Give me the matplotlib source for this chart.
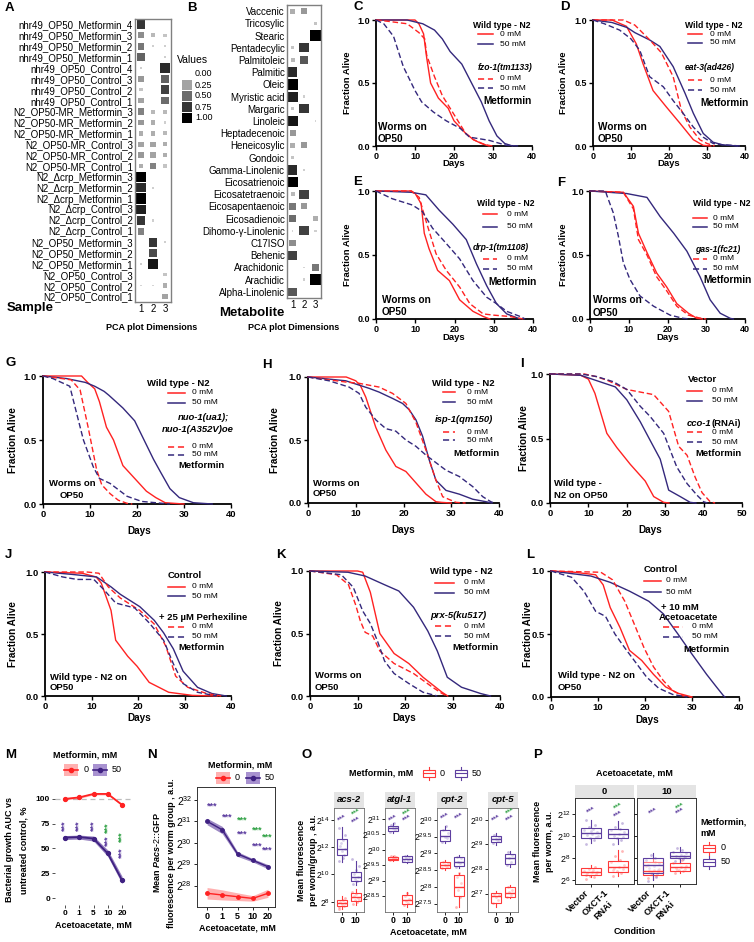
import numpy as np
import matplotlib
matplotlib.use('Agg')
import matplotlib.pyplot as plt
from matplotlib.colors import LinearSegmentedColormap
from matplotlib.patches import Rectangle

plt.rcParams['font.family'] = ['Liberation Sans', 'DejaVu Sans']
plt.rcParams['mathtext.fontset'] = 'custom'
plt.rcParams['mathtext.rm'] = 'Liberation Sans'
plt.rcParams['mathtext.it'] = 'Liberation Sans:italic:bold'
plt.rcParams['mathtext.bf'] = 'Liberation Sans:bold'

# ---------------- A / B : PCA loading heatmaps ----------------
samples = ['nhr49_OP50_Metformin_4', 'nhr49_OP50_Metformin_3', 'nhr49_OP50_Metformin_2',
           'nhr49_OP50_Metformin_1', 'nhr49_OP50_Control_4', 'nhr49_OP50_Control_3',
           'nhr49_OP50_Control_2', 'nhr49_OP50_Control_1', 'N2_OP50-MR_Metformin_3',
           'N2_OP50-MR_Metformin_2', 'N2_OP50-MR_Metformin_1', 'N2_OP50-MR_Control_3',
           'N2_OP50-MR_Control_2', 'N2_OP50-MR_Control_1', 'N2_\u0394crp_Metformin_3',
           'N2_\u0394crp_Metformin_2', 'N2_\u0394crp_Metformin_1', 'N2_\u0394crp_Control_3',
           'N2_\u0394crp_Control_2', 'N2_\u0394crp_Control_1', 'N2_OP50_Metformin_3',
           'N2_OP50_Metformin_2', 'N2_OP50_Metformin_1', 'N2_OP50_Control_3',
           'N2_OP50_Control_2', 'N2_OP50_Control_1']
sample_vals = [[0.75, 0, 0], [0.35, 0.15, 0.1], [0.45, 0.05, 0.05], [0.55, 0, 0.05],
               [0.05, 0, 0.8], [0.3, 0, 0.55], [0.1, 0, 0.7], [0.25, 0, 0.5],
               [0.4, 0.15, 0.15], [0.3, 0.2, 0.05], [0.2, 0.2, 0.15], [0.25, 0.25, 0.2],
               [0.3, 0.25, 0.2], [0.2, 0.4, 0.1], [1.0, 0, 0], [0.8, 0.05, 0],
               [1.0, 0, 0], [0.85, 0, 0], [0.75, 0.05, 0], [0.4, 0, 0],
               [0, 0.75, 0.05], [0, 0.65, 0], [0.05, 0.9, 0], [0, 0, 0.1],
               [0.02, 0.02, 0.2], [0, 0, 0.25]]
metabolites = ['Vaccenic', 'Tricosylic', 'Stearic', 'Pentadecylic', 'Palmitoleic', 'Palmitic',
               'Oleic', 'Myristic acid', 'Margaric', 'Linoleic', 'Heptadecenoic', 'Heneicosylic',
               'Gondoic', 'Gamma-Linolenic', 'Eicosatrienoic', 'Eicosatetraenoic',
               'Eicosapentaenoic', 'Eicosadienoic', 'Dihomo-\u03b3-Linolenic', 'C17ISO', 'Behenic',
               'Arachidonic', 'Arachidic', 'Alpha-Linolenic']
metab_vals = [[0.2, 0.3, 0], [0, 0, 0.1], [0, 0, 1.0], [0.1, 0.75, 0], [0.15, 0.6, 0],
              [0.8, 0, 0], [1.0, 0, 0], [0.85, 0.05, 0], [0.1, 0.75, 0], [0.9, 0, 0.02],
              [0.3, 0, 0], [0.2, 0.3, 0], [0.1, 0, 0], [0.8, 0.05, 0], [1.0, 0, 0],
              [0.15, 0.7, 0], [0.45, 0.3, 0], [0.5, 0, 0.2], [0.02, 0.7, 0.05], [0.35, 0, 0],
              [0.7, 0, 0], [0, 0.02, 0.45], [0, 0.05, 1.0], [0.6, 0, 0]]
legend_values = [0.0, 0.25, 0.5, 0.75, 1.0]

# ---------------- C - L : survival curves (days, fraction alive) ----------------
C_wt_0 = [[0, 10, 11, 12.2, 13, 14, 16, 18.5, 20, 23, 25, 27, 29], [1, 1, .97, .89, .7, .5, .38, .3, .2, .1, .05, .02, 0]]
C_wt_50 = [[0, 8, 12, 15, 17, 19, 22, 24.5, 27, 29, 31, 33, 35], [1, 1, .97, .92, .85, .75, .65, .5, .35, .2, .08, .02, 0]]
C_mut_0 = [[0, 3, 8, 11, 12.5, 13, 15, 17, 19, 21, 23, 25, 28, 30], [1, .99, .97, .9, .85, .72, .55, .4, .3, .2, .1, .05, .01, 0]]
C_mut_50 = [[0, 2, 4.5, 7, 10, 11.7, 14.7, 18, 21.6, 24, 29, 33.5, 37], [1, .97, .87, .63, .44, .35, .27, .2, .14, .07, .045, .005, 0]]

D_wt_0 = [[0, 5, 8.8, 11.4, 13.2, 15.8, 19.3, 22.9, 26.4, 29, 31], [1, 1, .95, .81, .65, .44, .31, .18, .05, .005, 0]]
D_wt_50 = [[0, 5, 9, 11, 13, 15, 17.6, 21.1, 24.2, 26.4, 29, 31.6, 34, 38], [1, .98, .94, .9, .87, .84, .79, .63, .42, .26, .1, .03, .01, 0]]
D_mut_0 = [[0, 8, 11, 13, 15, 18, 21.1, 23.3, 25.5, 28.1, 30, 32], [1, 1, .96, .9, .84, .74, .55, .28, .15, .05, .02, 0]]
D_mut_50 = [[0, 3, 7, 10, 12.3, 14.9, 18.5, 21.1, 23.7, 26.4, 29, 31.6, 34, 39], [1, .97, .92, .85, .76, .55, .47, .36, .26, .15, .07, .02, .01, 0]]

E_wt_0 = [[0, 9, 10, 11.5, 12.3, 13.5, 15.7, 18.7, 21.3, 24.7, 27.3, 29], [1, 1, .98, .9, .67, .55, .38, .3, .15, .06, .02, 0]]
E_wt_50 = [[0, 9, 12.7, 16.1, 19.6, 23, 25.6, 28.2, 30.7, 33.3, 36.7], [1, .99, .97, .85, .74, .62, .43, .26, .12, .04, 0]]
E_mut_0 = [[0, 9, 11, 12.7, 15.3, 17.9, 21.3, 23.9, 27.3, 30, 34, 37.6], [1, 1, .95, .77, .51, .38, .25, .12, .04, .03, .02, 0]]
E_mut_50 = [[0, 4.1, 9.3, 11.8, 14.4, 17.9, 21.3, 24.7, 28.2, 30.7, 33.3, 36.7, 38], [1, .94, .89, .84, .71, .59, .47, .3, .17, .12, .06, .02, 0]]

F_wt_0 = [[0, 8.6, 11.2, 12.5, 14.7, 17.2, 19.8, 22.4, 25.4, 27.6, 29], [1, .99, .88, .67, .52, .36, .25, .12, .045, .005, 0]]
F_wt_50 = [[0, 9.5, 14.7, 18.1, 21.6, 25, 28.4, 31, 33.6, 36.2, 37], [1, .98, .95, .8, .67, .53, .33, .15, .045, .005, 0]]
F_mut_0 = [[0, 8.6, 11.2, 12.5, 14.7, 17.2, 19.8, 22.4, 25.4, 28, 30], [1, .99, .86, .62, .5, .33, .22, .1, .03, .01, 0]]
F_mut_50 = [[0, 4, 4.3, 6, 7.3, 8.6, 10.3, 12.9, 16.4, 20.7, 24.1, 26], [1, 1, .97, .83, .65, .44, .31, .18, .1, .03, .005, 0]]

G_wt_0 = [[0, 8.2, 9.5, 11, 12, 13.5, 15, 17, 19.5, 22, 24, 26, 30], [1, 1, .95, .9, .8, .6, .5, .3, .2, .1, .05, .01, 0]]
G_wt_50 = [[0, 5, 9, 11, 13, 14, 17, 19.5, 21.5, 23.5, 25, 27, 29, 32, 36], [1, .98, .95, .92, .88, .85, .75, .65, .5, .35, .25, .12, .05, .01, 0]]
G_mut_0 = [[0, 6, 7.9, 9.6, 11.4, 12.5, 14.3, 16, 17.9, 19], [1, .97, .89, .6, .27, .15, .08, .03, .005, 0]]
G_mut_50 = [[0, 2.1, 5.7, 6.8, 8.6, 10.7, 12, 14.3, 17.9, 21, 27], [1, .98, .92, .76, .5, .29, .2, .16, .06, .02, 0]]

H_wt_0 = [[0, 8, 10, 11, 12.1, 14.2, 16.3, 18.4, 20.5, 22.6, 24.7, 26.8, 28, 30], [1, 1, .97, .93, .84, .6, .42, .29, .25, .16, .07, .01, .005, 0]]
H_wt_50 = [[0, 7.9, 12.8, 14.9, 17.7, 19.8, 21.2, 22.6, 24, 25.4, 26.8, 28.9, 31.7, 34.5, 37.3, 38.5], [1, .97, .91, .88, .83, .79, .74, .66, .53, .34, .18, .1, .07, .03, .01, 0]]
H_mut_0 = [[0, 7.9, 10.7, 14.9, 17.7, 20.5, 22.6, 24.7, 26.8, 28.2, 31, 33], [1, .96, .95, .92, .87, .79, .64, .42, .18, .05, .005, 0]]
H_mut_50 = [[0, 4.4, 8.6, 10.7, 12.1, 14.2, 16.3, 18.4, 20.5, 22.6, 24.7, 26.8, 28.9, 31.7, 34.5, 36.6, 38.3, 39], [1, .97, .92, .87, .76, .66, .59, .57, .5, .45, .38, .32, .26, .21, .13, .05, .01, 0]]

I_wt_0 = [[0, 8, 10, 11.7, 14.8, 17.4, 20.9, 24.8, 27, 29.6, 31], [1, .99, .96, .85, .54, .43, .3, .17, .05, .005, 0]]
I_wt_50 = [[0, 8, 12, 17, 20, 23.5, 26, 28.7, 30.9, 33.9, 36.5, 38], [1, .99, .95, .9, .8, .63, .49, .34, .1, .05, .005, 0]]
I_mut_0 = [[0, 9, 12, 15, 20, 27, 30.9, 33.5, 35.7, 37.8, 39.6, 41.7, 43], [1, 1, .98, .95, .88, .84, .71, .44, .37, .2, .08, .01, 0]]
I_mut_50 = [[0, 8, 12.2, 16.5, 20, 23.5, 26.1, 29.6, 31.3, 33, 35.7, 38.3, 40, 41], [1, 1, .98, .94, .88, .75, .67, .54, .41, .28, .15, .06, .01, 0]]

J_wt_0 = [[0, 8, 11, 12.1, 14.2, 15.2, 17.8, 19.8, 22.4, 26.6, 31.7, 37], [1, .99, .96, .91, .69, .45, .32, .24, .11, .03, .005, 0]]
J_wt_50 = [[0, 6, 11.1, 14.2, 16.2, 20.4, 23.5, 25.5, 27.6, 29.7, 32.8, 35.9, 39], [1, .98, .96, .88, .82, .72, .61, .51, .38, .2, .07, .02, 0]]
J_mut_0 = [[0, 9, 11.6, 13.6, 16.2, 20.4, 23.5, 26, 28.1, 30.7, 34.8, 37.9], [1, 1, .99, .88, .79, .69, .58, .4, .16, .07, .02, 0]]
J_mut_50 = [[0, 3.8, 6.9, 10.5, 12.6, 15.2, 19.3, 22.4, 25.5, 27.6, 29.7, 32.8, 36.9], [1, .96, .94, .94, .86, .75, .71, .59, .45, .26, .1, .03, 0]]

K_wt_0 = [[0, 10, 11.1, 12.7, 14.7, 17.7, 20.8, 23.8, 25.8, 27.8, 29], [1, 1, .99, .83, .5, .34, .26, .15, .09, .03, 0]]
K_wt_50 = [[0, 8, 11.6, 15.7, 18.7, 21.8, 24.8, 26.8, 28.9, 31.9, 35.9, 38], [1, .99, .96, .89, .84, .71, .52, .36, .15, .07, .02, 0]]
K_mut_0 = [[0, 5.6, 8.1, 9.6, 10.6, 11.6, 13.2, 14.7, 17.7, 21.8, 25.8, 27.8, 28.9], [1, .97, .89, .73, .6, .51, .48, .36, .26, .18, .07, .02, 0]]
K_mut_50 = [[0, 6.6, 9.1, 11.1, 12.7, 14.2, 15.7, 17.7, 20.8, 23.8, 26.8], [1, .97, .87, .68, .58, .44, .28, .18, .1, .03, 0]]

L_wt_0 = [[0, 5, 9.5, 11.1, 12.6, 14.7, 16.7, 19.3, 21.8, 24.4, 27, 30], [1, .99, .97, .89, .71, .55, .37, .29, .18, .08, .03, 0]]
L_wt_50 = [[0, 8.5, 12.6, 16.7, 20.8, 23.9, 27, 30, 33.1, 35.2, 36.7, 37], [1, .96, .91, .84, .76, .66, .5, .34, .18, .08, .01, 0]]
L_mut_0 = [[0, 10.6, 13.1, 15.7, 17.7, 19.8, 21.8, 23.9, 25.9, 28, 30], [1, .99, .93, .76, .58, .39, .24, .13, .05, .01, 0]]
L_mut_50 = [[0, 4.4, 7, 9.5, 11.6, 13.6, 15.7, 17.7, 20.3, 22.9, 25.9, 29], [1, .95, .84, .68, .64, .5, .39, .29, .16, .07, .02, 0]]

# ---------------- M : bacterial growth ----------------
acac_levels = ['0', '1', '5', '10', '20']
M_ctrl = [100, 101.5, 105, 105, 94]
M_ctrl_lo = [99, 100.5, 104, 104, 93]
M_ctrl_hi = [101, 102.5, 106, 106, 95]
M_met = [61, 61.5, 60, 45, 18]
M_met_lo = [59, 59.5, 57.5, 42, 14.5]
M_met_hi = [63, 63.5, 62.5, 48.5, 22]
M_stars = [(0, 72.5, 'p'), (1, 72.5, 'p'), (2, 72.5, 'p'), (3, 70.5, 'g'), (3, 57.5, 'p'),
           (4, 61.5, 'g'), (4, 45.5, 'p')]

# ---------------- N : Pacs-2::GFP (log2) ----------------
N_ctrl = [27.64, 27.56, 27.48, 27.4, 27.64]
N_ctrl_lo = [27.37, 27.33, 27.3, 27.27, 27.45]
N_ctrl_hi = [27.91, 27.8, 27.66, 27.53, 27.83]
N_met = [31.0, 30.6, 29.48, 29.18, 28.88]
N_met_lo = [30.84, 30.42, 29.36, 29.1, 28.78]
N_met_hi = [31.14, 30.76, 29.58, 29.26, 28.98]
N_stars = [(0.33, 31.69, 'p'), (1.3, 31.19, 'p'), (2.3, 31.07, 'g'), (2.3, 30.41, 'p'),
           (3.3, 30.57, 'g'), (3.3, 29.85, 'p'), (3.95, 30.26, 'g'), (3.95, 29.66, 'p')]

# ---------------- O : reporter boxplots (log2), [whislo, q1, med, q3, whishi] ----------------
O_genes = ['acs-2', 'atgl-1', 'cpt-2', 'cpt-5']
O_acac = ['0', '10']
O_red_0 = [[7.45, 7.7, 7.9, 8.15, 8.45], [29.64, 29.66, 29.71, 29.77, 29.8],
           [28.5, 28.55, 28.65, 28.75, 28.8], [26.45, 26.6, 26.89, 27.03, 27.1]]
O_red_10 = [[7.75, 8.05, 8.33, 8.63, 8.9], [28.14, 28.23, 28.36, 28.52, 28.63],
            [27.4, 27.72, 28.0, 28.35, 28.4], [26.8, 26.86, 27.03, 27.27, 27.35]]
O_pur_0 = [[10.9, 11.4, 11.9, 12.6, 13.5], [30.53, 30.59, 30.7, 30.77, 30.86],
           [29.3, 29.38, 29.53, 29.7, 29.82], [28.97, 29.11, 29.23, 29.34, 29.45]]
O_pur_10 = [[9.2, 9.5, 9.8, 10.2, 11.0], [29.58, 29.6, 29.7, 29.8, 29.84],
            [28.55, 28.62, 28.73, 28.88, 28.95], [28.1, 28.19, 28.46, 28.6, 28.75]]
O_pts_red_0 = [[7.5, 7.7, 7.8, 7.9, 8.0, 8.1, 8.3, 7.6], [29.66, 29.7, 29.72, 29.75, 29.78, 29.8],
               [28.55, 28.6, 28.65, 28.7, 28.75], [26.6, 26.75, 26.85, 26.95, 27.0]]
O_pts_red_10 = [[7.8, 8.0, 8.15, 8.3, 8.45, 8.6, 8.1, 8.7], [28.2, 28.28, 28.35, 28.4, 28.5, 28.6],
                [27.4, 27.7, 27.9, 28.1, 28.3, 28.4], [26.85, 26.95, 27.05, 27.15, 27.25]]
O_pts_pur_0 = [[11.0, 11.4, 11.7, 11.9, 12.1, 12.5, 12.9, 13.4, 11.2, 12.3],
               [30.58, 30.65, 30.7, 30.75, 30.8, 30.85], [29.35, 29.45, 29.5, 29.6, 29.7, 29.8],
               [29.05, 29.15, 29.2, 29.3, 29.4]]
O_pts_pur_10 = [[9.3, 9.5, 9.7, 9.8, 10.0, 10.3, 10.6, 11.1], [29.62, 29.68, 29.72, 29.76, 29.8],
                [28.6, 28.7, 28.75, 28.85, 28.9], [28.15, 28.3, 28.45, 28.55, 28.7]]
O_stars = [(0, 1, 14.1, 'p'), (0, 2, 14.0, 'p'), (0, 2, 14.55, 'g'),
           (1, 1, 31.02, 'p'), (1, 2, 31.02, 'p'), (1, 2, 31.2, 'g'),
           (2, 1, 30.1, 'p'), (2, 2, 30.1, 'p'),
           (3, 1, 30.07, 'p'), (3, 2, 30.07, 'p'), (3, 2, 30.33, 'g')]

# ---------------- P : OXCT-1 RNAi (log2) ----------------
P_facets = ['0', '10']
P_conditions = ['Vector', 'OXCT-1\nRNAi']
P_red = [[[6.3, 6.45, 6.76, 7.06, 7.36], [6.4, 6.7, 7.2, 7.76, 8.73]],
         [[6.1, 6.45, 6.82, 7.6, 7.9], [6.6, 6.85, 7.15, 7.5, 7.8]]]
P_pur = [[[9.33, 9.8, 10.24, 10.7, 11.45], [9.3, 9.8, 10.15, 10.6, 11.3]],
         [[6.0, 6.6, 7.36, 7.97, 8.42], [7.67, 7.97, 8.2, 8.5, 8.97]]]
P_pts_red = [[[6.1, 6.3, 6.4, 6.5, 6.6, 6.7, 6.75, 6.8, 6.9, 7.0, 7.2, 6.45],
              [6.4, 6.6, 6.8, 7.0, 7.1, 7.2, 7.4, 7.6, 7.8, 8.2, 8.6, 6.9]],
             [[6.2, 6.4, 6.5, 6.7, 6.8, 6.9, 7.0, 7.3, 7.6, 6.6],
              [6.6, 6.8, 6.9, 7.0, 7.1, 7.2, 7.3, 7.5, 7.8, 6.95]]]
P_pts_pur = [[[9.3, 9.6, 9.8, 9.9, 10.1, 10.2, 10.3, 10.5, 10.6, 10.8, 11.0, 11.4, 10.4, 9.95],
              [9.3, 9.6, 9.8, 9.9, 10.0, 10.15, 10.3, 10.5, 10.6, 10.8, 11.2]],
             [[5.9, 6.3, 6.6, 6.9, 7.1, 7.3, 7.5, 7.8, 8.0, 8.3, 6.5, 7.4],
              [7.7, 7.9, 8.0, 8.1, 8.2, 8.3, 8.4, 8.5, 8.7, 8.9, 8.15]]]
P_stars = [(0, 1, 12.3, 'p'), (0, 2, 11.95, 'p'), (0, 2, 12.65, 'g'),
           (1, 1, 12.2, 'p'), (1, 2, 12.2, 'p'), (1, 2, 12.7, 'g')]

RED = '#FF2222'
NAVY = '#34287C'
PUR = '#3F2182'
PUR_BOX = '#5E3FA0'
RED_BOX = '#FF3A3A'
GREEN = '#2EA043'
STAR_COL = {'p': '#5A3A9E', 'g': GREEN}
JIT = [-0.22, 0.12, -0.05, 0.2, -0.15, 0.03, 0.25, -0.28, 0.08, -0.1, 0.17, -0.2, 0.0, 0.27]

W, H = 754, 942
fig = plt.figure(figsize=(W / 100, H / 100), dpi=100)


def rect(x0, y0, x1, y1):
    return [x0 / W, 1 - y1 / H, (x1 - x0) / W, (y1 - y0) / H]


ov = fig.add_axes([0, 0, 1, 1], zorder=10)
ov.set_xlim(0, W)
ov.set_ylim(H, 0)
ov.axis('off')
ov.patch.set_alpha(0)


def txt(x, y, s, size=6.5, bold=True, **kw):
    kw.setdefault('va', 'center')
    ov.text(x, y, s, fontsize=size, fontweight='bold' if bold else 'normal', **kw)


def bold_ticks(ax):
    for lab in ax.get_xticklabels() + ax.get_yticklabels():
        lab.set_fontweight('bold')


# ---------------- heatmaps ----------------
cmap = LinearSegmentedColormap.from_list('greys', ['#d9d9d9', '#000000'])


def heatmap(box, labels, vals):
    x0, y0, x1, y1 = box
    ax = fig.add_axes(rect(*box))
    v = np.array(vals)
    n = len(labels)
    side = 0.95 * min((x1 - x0) / 3, (y1 - y0) / n)
    rows, cols = np.nonzero(v >= 0)
    ax.scatter(cols + 1, rows, s=(side * np.sqrt(v.ravel()) * 0.72) ** 2, c=v.ravel(),
               cmap=cmap, vmin=0, vmax=1, marker='s', linewidths=0)
    ax.set_xlim(0.5, 3.5)
    ax.set_ylim(n - 0.5, -0.5)
    ax.set_yticks(range(n))
    ax.set_yticklabels(labels, fontsize=7)
    ax.set_xticks([1, 2, 3])
    ax.set_xticklabels(['1', '2', '3'], fontsize=7)
    ax.tick_params(length=0, pad=1.5)
    for s in ax.spines.values():
        s.set_color('#808080')
        s.set_linewidth(1.0)


heatmap((135, 19, 171, 302), samples, sample_vals)
heatmap((287, 5, 321, 298), metabolites, metab_vals)
txt(5, 8, 'A', 9.5)
txt(187, 8, 'B', 9.5)
txt(7, 308, 'Sample', 9.5)
txt(284, 313, 'Metabolite', 9.5, ha='right')
txt(152, 328, 'PCA plot Dimensions', 6.5, ha='center')
txt(294, 328, 'PCA plot Dimensions', 6.5, ha='center')
txt(177, 60, 'Values', 7.5, bold=False)
for i, v in enumerate(legend_values):
    yk = 74 + 11 * i
    if v > 0:
        ov.add_patch(Rectangle((182, yk - 5), 10, 10, color=cmap(v), lw=0))
    txt(195, yk, '%.2f' % v, 6.5, bold=False)

# ---------------- survival panels ----------------
S_STYLES = [(RED, False), (NAVY, False), (RED, True), (NAVY, True)]

surv_panels = [
    dict(letter='C', lxy=(353, 7), ax=(376, 20, 532, 146), xmax=40, curves=(C_wt_0, C_wt_50, C_mut_0, C_mut_50),
         ylab=347, days=(454, 164), h1=(473, 25, 'Wild type - N2'), lx=(478, 493, 500), y12=(34, 44),
         h2=[(478, 67, 'fzo-1(tm1133)', 'bi')], y34=(79, 88), met=(483, 101),
         note=(378, 127, 'Worms on', 139, 'OP50', 'left'), row=0),
    dict(letter='D', lxy=(560, 7), ax=(593, 20, 745, 146), xmax=40, curves=(D_wt_0, D_wt_50, D_mut_0, D_mut_50),
         ylab=564, days=(669, 164), h1=(685, 25, 'Wild type - N2'), lx=(688, 702, 710), y12=(34, 43),
         h2=[(685, 68, 'eat-3(ad426)', 'bi')], y34=(80, 90), met=(700, 103),
         note=(598, 127, 'Worms on', 139, 'OP50', 'left'), row=0),
    dict(letter='E', lxy=(353, 182), ax=(376, 191, 533, 319), xmax=40, curves=(E_wt_0, E_wt_50, E_mut_0, E_mut_50),
         ylab=347, days=(454, 338), h1=(477, 203, 'Wild type - N2'), lx=(483, 497, 507), y12=(214, 227),
         h2=[(473, 247, 'drp-1(tm1108)', 'bi')], y34=(259, 269), met=(488, 282),
         note=(382, 300, 'Worms on', 312, 'OP50', 'left'), row=0),
    dict(letter='F', lxy=(557, 183), ax=(590, 191, 745, 319), xmax=40, curves=(F_wt_0, F_wt_50, F_mut_0, F_mut_50),
         ylab=564, days=(668, 338), h1=(693, 204, 'Wild type - N2'), lx=(693, 707, 713), y12=(218, 227),
         h2=[(695, 249, 'gas-1(fc21)', 'bi')], y34=(259, 269), met=(703, 280),
         note=(593, 300, 'Worms on', 313, 'OP50', 'left'), row=0),
    dict(letter='G', lxy=(5, 363), ax=(43, 376, 231, 504), xmax=40, curves=(G_wt_0, G_wt_50, G_mut_0, G_mut_50),
         ylab=13, days=(139, 531), h1=(147, 383, 'Wild type - N2'), lx=(168, 185, 192), y12=(393, 403),
         h2=[(178, 418, 'nuo-1(ua1);', 'bi'), (162, 429, 'nuo-1(A352V)oe', 'bi')], y34=(447, 455), met=(178, 466),
         note=(72, 483, 'Worms on', 495, 'OP50', 'center'), row=1),
    dict(letter='H', lxy=(262, 365), ax=(308, 377, 499, 503), xmax=40, curves=(H_wt_0, H_wt_50, H_mut_0, H_mut_50),
         ylab=275, days=(403, 530), h1=(432, 383, 'Wild type - N2'), lx=(443, 455, 467), y12=(392, 402),
         h2=[(435, 420, 'isp-1(qm150)', 'bi')], y34=(432, 440), met=(453, 453),
         note=(313, 483, 'Worms on', 494, 'OP50', 'left'), row=1),
    dict(letter='I', lxy=(520, 364), ax=(550, 374, 742, 503), xmax=50, curves=(I_wt_0, I_wt_50, I_mut_0, I_mut_50),
         ylab=524, days=(650, 530), h1=(688, 379, 'Vector'), lx=(687, 702, 712), y12=(391, 401),
         h2=[(687, 423, 'cco-1', 'bi'), (711, 423, '(RNAi)', 'b')], y34=(432, 442), met=(695, 454),
         note=(554, 483, 'Wild type -', 495, 'N2 on OP50', 'left'), row=1),
    dict(letter='J', lxy=(5, 555), ax=(45, 572, 231, 696), xmax=40, curves=(J_wt_0, J_wt_50, J_mut_0, J_mut_50),
         ylab=13, days=(139, 718), h1=(168, 576, 'Control'), lx=(168, 185, 192), y12=(587, 596),
         h2=[(159, 617, '+ 25 \u00b5M Perhexiline', 'b')], y34=(627, 637), met=(178, 648),
         note=(50, 677, 'Wild type - N2 on', 687, 'OP50', 'left'), row=1),
    dict(letter='K', lxy=(276, 555), ax=(310, 571, 500, 696), xmax=40, curves=(K_wt_0, K_wt_50, K_mut_0, K_mut_50),
         ylab=279, days=(404, 718), h1=(430, 572, 'Wild type - N2'), lx=(435, 454, 464), y12=(583, 593),
         h2=[(430, 615, 'prx-5(ku517)', 'bi')], y34=(626, 636), met=(452, 647),
         note=(315, 675, 'Worms on', 687, 'OP50', 'left'), row=1),
    dict(letter='L', lxy=(526, 555), ax=(551, 571, 739, 697), xmax=40, curves=(L_wt_0, L_wt_50, L_mut_0, L_mut_50),
         ylab=528, days=(647, 720), h1=(644, 569, 'Control'), lx=(644, 661, 666), y12=(581, 592),
         h2=[(661, 608, '+ 10 mM', 'b'), (659, 617, 'Acetoacetate', 'b')], lx2=(663, 683, 692), y34=(627, 637),
         met=(683, 649), note=(558, 676, 'Wild type - N2 on', 687, 'OP50', 'left'), row=1),
]

FS = [dict(tick=6.5, lab=6.8, hdr=6.2, ent=6.0, met=7.2, note=7.2),
      dict(tick=6.8, lab=7.2, hdr=6.8, ent=6.0, met=6.8, note=6.8)]

for sp in surv_panels:
    fs = FS[sp['row']]
    ax = fig.add_axes(rect(*sp['ax']))
    for (d, f), (c, dashed) in zip(sp['curves'], S_STYLES):
        ln, = ax.plot(d, f, color=c, lw=1.0, clip_on=False, zorder=3)
        if dashed:
            ln.set_dashes([4, 2])
    ax.set_xlim(0, sp['xmax'])
    ax.set_ylim(0, 1)
    ax.set_xticks(range(0, sp['xmax'] + 1, 10))
    ax.set_yticks([0, 0.5, 1])
    ax.set_yticklabels(['0.0', '0.5', '1.0'])
    ax.tick_params(labelsize=fs['tick'], width=1.0, length=3, pad=1.5)
    bold_ticks(ax)
    for s in ['top', 'right']:
        ax.spines[s].set_visible(False)
    for s in ['left', 'bottom']:
        ax.spines[s].set_linewidth(1.3)
    y0, y1 = sp['ax'][1], sp['ax'][3]
    txt(*sp['lxy'], sp['letter'], 9.5)
    txt(sp['ylab'], (y0 + y1) / 2, 'Fraction Alive', fs['lab'], rotation=90, ha='center')
    txt(*sp['days'], 'Days', fs['lab'], ha='center')
    hx, hy, htxt = sp['h1']
    txt(hx, hy, htxt, fs['hdr'])
    lx0, lx1, ltx = sp['lx']
    for yy, (c, dashed), lab in zip(sp['y12'], S_STYLES[:2], ['0 mM', '50 mM']):
        ov.plot([lx0, lx1], [yy, yy], color=c, lw=1.1)
        txt(ltx, yy, lab, fs['ent'], bold=False)
    for hx, hy, htxt, st in sp['h2']:
        ov.text(hx, hy, htxt, fontsize=fs['hdr'], fontweight='bold',
                style='italic' if st == 'bi' else 'normal', va='center')
    lx0, lx1, ltx = sp.get('lx2', sp['lx'])
    for yy, (c, dashed), lab in zip(sp['y34'], S_STYLES[2:], ['0 mM', '50 mM']):
        ln, = ov.plot([lx0, lx1], [yy, yy], color=c, lw=1.1)
        ln.set_dashes([4, 2.5])
        txt(ltx, yy, lab, fs['ent'], bold=False)
    txt(*sp['met'], 'Metformin', fs['met'])
    nx, ny1, n1, ny2, n2, al = sp['note']
    txt(nx, ny1, n1, fs['note'], ha=al)
    txt(nx, ny2, n2, fs['note'], ha=al)


# ---------------- ggplot-style legend keys ----------------
def line_key(x, y, col, fill):
    ov.add_patch(Rectangle((x, y - 6), 14, 12, color=fill, lw=0))
    ov.plot([x, x + 14], [y, y], color=col, lw=1.2)
    ov.plot([x + 7], [y], 'o', color=col, ms=3)


def box_key(x, y, col):
    ov.add_patch(Rectangle((x, y - 3.5), 12, 7, fill=False, ec=col, lw=0.8))
    ov.plot([x, x + 12], [y, y], color=col, lw=0.8)
    ov.plot([x + 6, x + 6], [y - 6.5, y - 3.5], color=col, lw=0.8)
    ov.plot([x + 6, x + 6], [y + 3.5, y + 6.5], color=col, lw=0.8)


# ---------------- M ----------------
xi = np.arange(len(acac_levels))
axM = fig.add_axes(rect(55, 785, 132, 905))
axM.fill_between(xi, M_ctrl_lo, M_ctrl_hi, color=RED, alpha=0.35, lw=0)
axM.fill_between(xi, M_met_lo, M_met_hi, color='#5B3A9B', alpha=0.65, lw=0)
axM.axhline(100, color='#bdbdbd', ls=(0, (4, 3)), lw=0.9, zorder=0)
axM.plot(xi, M_ctrl, color=RED, lw=1.3, marker='o', ms=2.8)
axM.plot(xi, M_met, color=PUR, lw=1.3, marker='o', ms=2.8)
for xs, ys, k in M_stars:
    axM.text(xs, ys, '***', rotation=90, fontsize=6.5, color=STAR_COL[k], ha='center', va='center',
             fontweight='bold')
axM.set_xlim(-0.7, 4.7)
axM.set_ylim(-7, 114)
axM.set_xticks(xi)
axM.set_xticklabels(acac_levels)
axM.set_yticks([0, 25, 50, 75, 100])
axM.tick_params(labelsize=6, length=2, width=0.6, pad=1.5, color='#333333')
bold_ticks(axM)
for s in axM.spines.values():
    s.set_visible(False)
txt(5, 755, 'M', 9.5)
txt(85, 755, 'Metformin, mM', 6.5, ha='center')
line_key(64, 770, RED, '#FFB0B0')
txt(84, 770, '0', 6.5, bold=False)
line_key(93, 770, PUR, '#A892D0')
txt(112, 770, '50', 6.5, bold=False)
txt(10, 850, 'Bacterial growth AUC vs', 6.5, rotation=90, ha='center')
txt(24, 850, 'untreated control, %', 6.5, rotation=90, ha='center')
txt(93, 925, 'Acetoacetate, mM', 6.5, ha='center')

# ---------------- N ----------------
axN = fig.add_axes(rect(197, 787, 275, 907))
axN.fill_between(xi, N_ctrl_lo, N_ctrl_hi, color=RED, alpha=0.35, lw=0)
axN.fill_between(xi, N_met_lo, N_met_hi, color='#5B3A9B', alpha=0.6, lw=0)
axN.plot(xi, N_ctrl, color=RED, lw=1.0, marker='o', ms=2.5)
axN.plot(xi, N_met, color=PUR, lw=1.0, marker='o', ms=2.5)
for xs, ys, k in N_stars:
    axN.text(xs, ys, '***', fontsize=6.5, color=STAR_COL[k], ha='center', va='center', fontweight='bold')
axN.set_xlim(-0.66, 4.46)
axN.set_ylim(27.0, 32.6)
axN.set_xticks(xi)
axN.set_xticklabels(acac_levels)
axN.set_yticks([28, 29, 30, 31, 32])
axN.set_yticklabels([r'$2^{%d}$' % v for v in [28, 29, 30, 31, 32]])
axN.tick_params(labelsize=6.5, length=2, width=0.6, pad=1.5)
for lab in axN.get_yticklabels():
    lab.set_fontsize(7.5)
for lab in axN.get_xticklabels():
    lab.set_fontweight('bold')
for s in axN.spines.values():
    s.set_color('#333333')
    s.set_linewidth(0.7)
txt(147, 755, 'N', 9.5)
txt(240, 765, 'Metformin, mM', 6.5, ha='center')
line_key(216, 778, RED, '#FFB0B0')
txt(235, 778, '0', 6.5, bold=False)
line_key(246, 778, PUR, '#A892D0')
txt(265, 778, '50', 6.5, bold=False)
txt(157, 853, r'Mean $\mathit{Pacs}$-$\mathit{2}$::GFP', 6.5, rotation=90, ha='center')
txt(172, 853, 'fluorescence per worm group , a.u.', 6.5, rotation=90, ha='center')
txt(237, 928, 'Acetoacetate, mM', 6.5, ha='center')


# ---------------- box panels helper ----------------
def draw_boxes(ax, pos, stats, pts, col_box, col_pt):
    jit = [JIT[i % len(JIT)] for i in range(len(pts))]
    ax.scatter(pos + np.array(jit) * 0.9, pts, s=4, color=col_pt, alpha=0.55, lw=0, zorder=2)
    st = dict(whislo=stats[0], q1=stats[1], med=stats[2], q3=stats[3], whishi=stats[4])
    ax.bxp([st], positions=[pos], widths=0.75, showfliers=False, showcaps=False, patch_artist=True,
           boxprops=dict(facecolor=(1, 1, 1, 0.35), edgecolor=col_box, lw=0.8),
           medianprops=dict(color=col_box, lw=1.0), whiskerprops=dict(color=col_box, lw=0.8),
           manage_ticks=False, zorder=3)


# ---------------- O ----------------
O_boxes = [(334, 364), (385, 415), (437, 467), (488, 518)]
O_ylims = [(7.25, 14.875), (27.98, 31.35), (27.25, 30.35), (26.25, 30.48)]
O_ticks = [[8, 10, 12, 14], [28.5, 29, 29.5, 30, 30.5, 31], [27.5, 28, 28.5, 29, 29.5, 30], [27, 28, 29, 30]]
for g, gene in enumerate(O_genes):
    bx0, bx1 = O_boxes[g]
    ax = fig.add_axes(rect(bx0, 808, bx1, 912))
    for j, pos in enumerate([1, 2]):
        red_s = [O_red_0, O_red_10][j][g]
        pur_s = [O_pur_0, O_pur_10][j][g]
        draw_boxes(ax, pos, red_s, [O_pts_red_0, O_pts_red_10][j][g], RED_BOX, '#FF7A7A')
        draw_boxes(ax, pos, pur_s, [O_pts_pur_0, O_pts_pur_10][j][g], PUR_BOX, '#9A82C8')
    for gi, xs, ys, k in O_stars:
        if gi == g:
            ax.text(xs, ys, '***', rotation=30, fontsize=5.5, color=STAR_COL[k], ha='center', va='center',
                    fontweight='bold')
    ax.set_xlim(0.4, 2.6)
    ax.set_ylim(*O_ylims[g])
    ax.set_xticks([1, 2])
    ax.set_xticklabels(O_acac)
    ax.set_yticks(O_ticks[g])
    ax.set_yticklabels([r'$2^{%g}$' % v for v in O_ticks[g]])
    ax.tick_params(labelsize=6.3, length=2, width=0.6, pad=1.0)
    for lab in ax.get_xticklabels():
        lab.set_fontweight('bold')
    for s in ax.spines.values():
        s.set_color('#6e6e6e')
        s.set_linewidth(0.6)
    ov.add_patch(Rectangle((bx0, 792), bx1 - bx0, 16, color='#E4E4E4', lw=0))
    ov.text((bx0 + bx1) / 2, 800, gene, fontsize=6.8, fontweight='bold', style='italic', ha='center', va='center')
txt(302, 755, 'O', 9.5)
txt(413, 773, 'Metformin, mM', 6.5, ha='right')
box_key(423, 773, RED_BOX)
txt(440, 773, '0', 6.5, bold=False)
box_key(455, 773, PUR_BOX)
txt(472, 773, '50', 6.5, bold=False)
txt(301, 860, 'Mean fluorescence', 6.5, rotation=90, ha='center')
txt(313, 860, 'per worm/group , a.u.', 6.5, rotation=90, ha='center')
txt(428, 932, 'Acetoacetate, mM', 6.5, ha='center')

# ---------------- P ----------------
P_boxes = [(575, 634), (637, 696)]
for f, fac in enumerate(P_facets):
    bx0, bx1 = P_boxes[f]
    ax = fig.add_axes(rect(bx0, 798, bx1, 884))
    for j, pos in enumerate([1, 2]):
        draw_boxes(ax, pos, P_red[f][j], P_pts_red[f][j], RED_BOX, '#FF7A7A')
        draw_boxes(ax, pos, P_pur[f][j], P_pts_pur[f][j], PUR_BOX, '#9A82C8')
    for fi, xs, ys, k in P_stars:
        if fi == f:
            ax.text(xs, ys, '***', rotation=30, fontsize=5.5, color=STAR_COL[k], ha='center', va='center',
                    fontweight='bold')
    ax.set_xlim(0.4, 2.6)
    ax.set_ylim(5.64, 13.42)
    ax.set_xticks([1, 2])
    ax.set_xticklabels(P_conditions, rotation=45, ha='right', va='top', multialignment='center')
    ax.set_yticks([6, 8, 10, 12])
    if f == 0:
        ax.set_yticklabels([r'$2^{%d}$' % v for v in [6, 8, 10, 12]])
    else:
        ax.set_yticklabels([])
    ax.tick_params(labelsize=6.5, length=2, width=0.6, pad=1.2)
    for lab in ax.get_xticklabels():
        lab.set_fontweight('bold')
    for s in ax.spines.values():
        s.set_color('#333333')
        s.set_linewidth(0.7)
    ov.add_patch(Rectangle((bx0, 785), bx1 - bx0, 13, color='#E4E4E4', lw=0))
    ov.text((bx0 + bx1) / 2, 791.5, fac, fontsize=6.8, fontweight='bold', ha='center', va='center')
txt(533, 755, 'P', 9.5)
txt(634, 773, 'Acetoacetate, mM', 6.5, ha='center')
txt(537, 841, 'Mean fluorescence', 6.5, rotation=90, ha='center')
txt(550, 841, 'per worm, a.u.', 6.5, rotation=90, ha='center')
txt(635, 932, 'Condition', 6.5, ha='center')
txt(700, 822, 'Metformin,', 6.5)
txt(700, 833, 'mM', 6.5)
box_key(703, 848, RED_BOX)
txt(721, 848, '0', 6.5, bold=False)
box_key(703, 862, PUR_BOX)
txt(721, 862, '50', 6.5, bold=False)

fig.savefig('out.png', dpi=100)
